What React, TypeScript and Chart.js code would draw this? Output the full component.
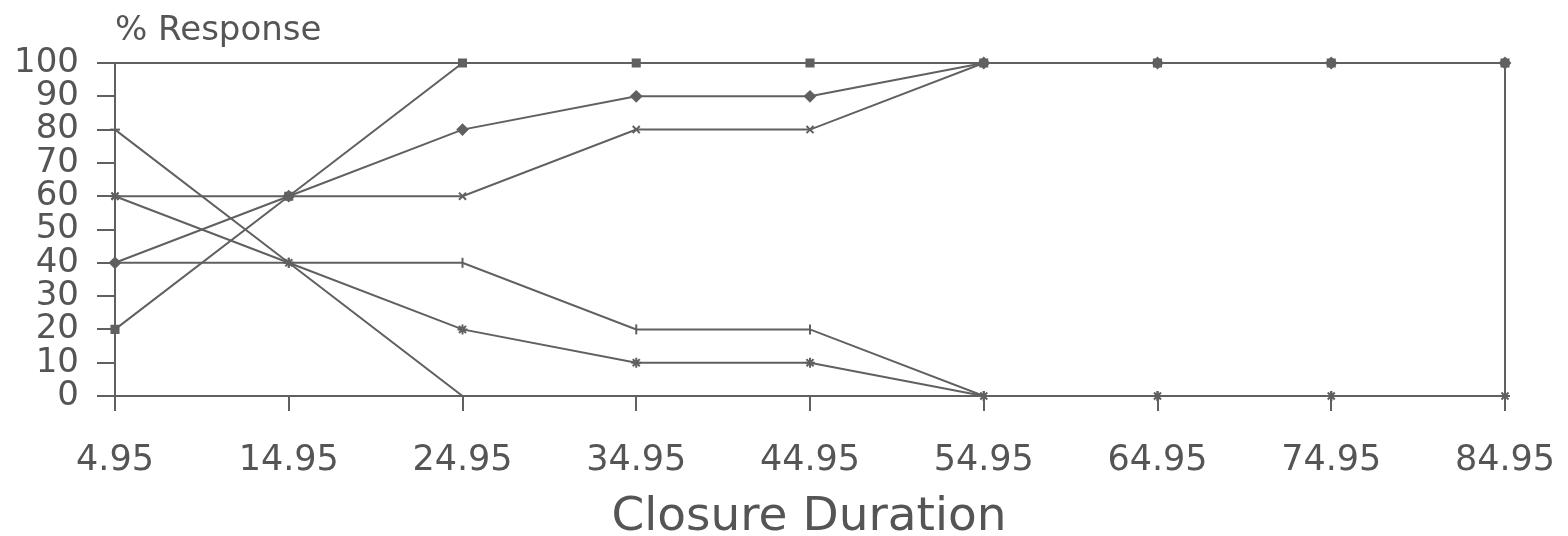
import React, { useEffect, useRef } from "react";
import { Chart, registerables } from "chart.js";

Chart.register(...registerables);

const categories = ["4.95", "14.95", "24.95", "34.95", "44.95", "54.95", "64.95", "74.95", "84.95"];
const seriesA = [20, 60, 100, 100, 100, 100, 100, 100, 100];
const seriesB = [40, 60, 80, 90, 90, 100, 100, 100, 100];
const seriesC = [60, 60, 60, 80, 80, 100, 100, 100, 100];
const seriesD = [40, 40, 40, 20, 20, 0, 0, 0, 0];
const seriesE = [60, 40, 20, 10, 10, 0, 0, 0, 0];
const seriesF = [80, 40, 0, 0, 0, 0, 0, 0, 0];
const yTitle = "% Response";
const xTitle = "Closure Duration";

const INK = "#606060";
const FONT = "'DejaVu Sans', sans-serif";

export default function App() {
  const ref = useRef<HTMLCanvasElement | null>(null);
  useEffect(() => {
    if (!ref.current) return;
    const mk = (data: number[], style: string, rot = 0) => ({
      data,
      borderColor: INK,
      backgroundColor: INK,
      borderWidth: 2,
      pointStyle: style as any,
      pointRotation: rot,
      pointRadius: 5,
      pointBorderWidth: 2,
      tension: 0,
      clip: false as any,
    });
    const frame = {
      id: "frame",
      afterDraw(chart: any) {
        const { ctx, chartArea } = chart;
        ctx.save();
        ctx.strokeStyle = INK;
        ctx.lineWidth = 2;
        ctx.beginPath();
        ctx.moveTo(chartArea.left, chartArea.top);
        ctx.lineTo(chartArea.right, chartArea.top);
        ctx.lineTo(chartArea.right, chartArea.bottom);
        ctx.stroke();
        ctx.fillStyle = "#555";
        ctx.font = `34px ${FONT}`;
        ctx.textAlign = "left";
        ctx.textBaseline = "alphabetic";
        ctx.fillText(yTitle, chartArea.left, 40);
        ctx.font = `47px ${FONT}`;
        ctx.textAlign = "center";
        ctx.fillText(xTitle, 809, 530);
        ctx.restore();
      },
    };
    const chart = new Chart(ref.current, {
      type: "line",
      data: {
        labels: categories,
        datasets: [
          mk(seriesA, "rect"),
          mk(seriesB, "rectRot"),
          mk(seriesC, "crossRot"),
          mk(seriesD, "line", 90),
          mk(seriesE, "star"),
          mk(seriesF, "line", 0),
        ],
      },
      options: {
        animation: false,
        responsive: false,
        maintainAspectRatio: false,
        layout: { padding: { top: 63, right: 0, left: 0, bottom: 0 } },
        plugins: { legend: { display: false }, tooltip: { enabled: false }, title: { display: false } },
        scales: {
          x: {
            type: "category",
            offset: false,
            afterFit: (s: any) => { s.height = 140; s.paddingRight = 63; s.paddingLeft = 0; },
            grid: { drawOnChartArea: false, tickLength: 15, color: INK, lineWidth: 2 },
            border: { display: true, color: INK, width: 2 },
            ticks: { color: "#555", font: { family: FONT, size: 35 }, padding: 29, maxRotation: 0, autoSkip: false },
          },
          y: {
            min: 0,
            max: 100,
            afterFit: (s: any) => { s.width = 115; },
            grid: { drawOnChartArea: false, tickLength: 18, color: INK, lineWidth: 2 },
            border: { display: true, color: INK, width: 2 },
            ticks: { stepSize: 10, autoSkip: false, color: "#555", font: { family: FONT, size: 34 }, padding: 18 },
          },
        },
      },
      plugins: [frame],
    });
    return () => chart.destroy();
  }, []);
  return (
    <div style={{ position: "fixed", left: 0, top: 0, width: 1568, height: 536, background: "#fff" }}>
      <canvas ref={ref} width={1568} height={536} style={{ display: "block" }} />
    </div>
  );
}
